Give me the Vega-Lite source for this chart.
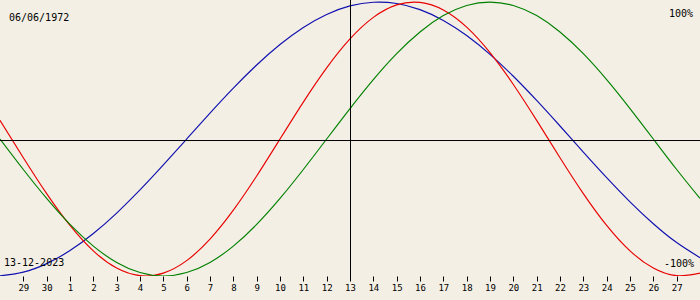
{
  "$schema": "https://vega.github.io/schema/vega-lite/v6.json",
  "width": 700,
  "height": 276,
  "padding": {"left": 0, "right": 0, "top": 0, "bottom": 24},
  "autosize": {"type": "none"},
  "background": "#f3efe4",
  "config": {"view": {"stroke": null}, "font": "DejaVu Sans Mono"},
  "encoding": {
    "x": {
      "field": "day", "type": "quantitative",
      "scale": {"domain": [-15, 15], "nice": false, "zero": false},
      "axis": {
        "title": null, "domain": false, "grid": false,
        "values": [-14, -13, -12, -11, -10, -9, -8, -7, -6, -5, -4, -3, -2, -1, 0, 1, 2, 3, 4, 5, 6, 7, 8, 9, 10, 11, 12, 13, 14],
        "labelExpr": "datum.value < -12 ? datum.value + 43 : datum.value + 13",
        "tickColor": "black", "tickSize": 5, "tickWidth": 1,
        "labelFont": "DejaVu Sans Mono", "labelFontSize": 9, "labelColor": "black",
        "labelPadding": 2, "labelFlush": false, "labelOverlap": false, "labelBound": false
      }
    },
    "y": {
      "field": "value", "type": "quantitative",
      "scale": {"domain": [-1, 1.015], "nice": false, "zero": false},
      "axis": null
    }
  },
  "layer": [
    {
      "data": {"values": [
        {"day": -15, "physical": 0.1362, "emotional": 0, "intellectual": -0.9989},
        {"day": -14, "physical": -0.1362, "emotional": -0.2225, "intellectual": -0.9718},
        {"day": -13, "physical": -0.3984, "emotional": -0.4339, "intellectual": -0.9096},
        {"day": -12, "physical": -0.6311, "emotional": -0.6235, "intellectual": -0.8146},
        {"day": -11, "physical": -0.8170, "emotional": -0.7818, "intellectual": -0.6901},
        {"day": -10, "physical": -0.9423, "emotional": -0.9010, "intellectual": -0.5406},
        {"day": -9, "physical": -0.9977, "emotional": -0.9749, "intellectual": -0.3717},
        {"day": -8, "physical": -0.9791, "emotional": -1, "intellectual": -0.1893},
        {"day": -7, "physical": -0.8879, "emotional": -0.9749, "intellectual": 0},
        {"day": -6, "physical": -0.7308, "emotional": -0.9010, "intellectual": 0.1893},
        {"day": -5, "physical": -0.5196, "emotional": -0.7818, "intellectual": 0.3717},
        {"day": -4, "physical": -0.2698, "emotional": -0.6235, "intellectual": 0.5406},
        {"day": -3, "physical": 0, "emotional": -0.4339, "intellectual": 0.6901},
        {"day": -2, "physical": 0.2698, "emotional": -0.2225, "intellectual": 0.8146},
        {"day": -1, "physical": 0.5196, "emotional": 0, "intellectual": 0.9096},
        {"day": 0, "physical": 0.7308, "emotional": 0.2225, "intellectual": 0.9718},
        {"day": 1, "physical": 0.8879, "emotional": 0.4339, "intellectual": 0.9989},
        {"day": 2, "physical": 0.9791, "emotional": 0.6235, "intellectual": 0.9898},
        {"day": 3, "physical": 0.9977, "emotional": 0.7818, "intellectual": 0.9450},
        {"day": 4, "physical": 0.9423, "emotional": 0.9010, "intellectual": 0.8660},
        {"day": 5, "physical": 0.8170, "emotional": 0.9749, "intellectual": 0.7557},
        {"day": 6, "physical": 0.6311, "emotional": 1, "intellectual": 0.6182},
        {"day": 7, "physical": 0.3984, "emotional": 0.9749, "intellectual": 0.4582},
        {"day": 8, "physical": 0.1362, "emotional": 0.9010, "intellectual": 0.2817},
        {"day": 9, "physical": -0.1362, "emotional": 0.7818, "intellectual": 0.0951},
        {"day": 10, "physical": -0.3984, "emotional": 0.6235, "intellectual": -0.0951},
        {"day": 11, "physical": -0.6311, "emotional": 0.4339, "intellectual": -0.2817},
        {"day": 12, "physical": -0.8170, "emotional": 0.2225, "intellectual": -0.4582},
        {"day": 13, "physical": -0.9423, "emotional": 0, "intellectual": -0.6182},
        {"day": 14, "physical": -0.9977, "emotional": -0.2225, "intellectual": -0.7557},
        {"day": 15, "physical": -0.9791, "emotional": -0.4339, "intellectual": -0.8660}
      ]},
      "transform": [{"fold": ["intellectual", "physical", "emotional"], "as": ["cycle", "value"]}],
      "mark": {"type": "line", "strokeWidth": 1.15, "interpolate": "natural", "clip": true},
      "encoding": {
        "color": {
          "field": "cycle", "type": "nominal",
          "scale": {"domain": ["intellectual", "physical", "emotional"], "range": ["#1010b0", "#e80000", "#008000"]},
          "legend": null
        }
      }
    },
    {
      "data": {"values": [{"day": 0, "value": 1.015, "value2": -1.03}]},
      "mark": {"type": "rule", "color": "black", "strokeWidth": 1, "xOffset": 0.5},
      "encoding": {"y2": {"field": "value2"}}
    },
    {
      "data": {"values": [{"day": -15, "day2": 15, "value": 0}]},
      "mark": {"type": "rule", "color": "black", "strokeWidth": 1, "yOffset": 1.5},
      "encoding": {"x2": {"field": "day2"}}
    },
    {
      "data": {"values": [{"day": -15, "value": 1, "label": "06/06/1972"}]},
      "mark": {"type": "text", "align": "left", "baseline": "alphabetic", "dx": 9, "dy": 19, "fontSize": 10, "font": "DejaVu Sans Mono", "color": "black"},
      "encoding": {"text": {"field": "label"}}
    },
    {
      "data": {"values": [{"day": 15, "value": 1, "label": "100%"}]},
      "mark": {"type": "text", "align": "right", "baseline": "alphabetic", "dx": -7, "dy": 15, "fontSize": 10, "font": "DejaVu Sans Mono", "color": "black"},
      "encoding": {"text": {"field": "label"}}
    },
    {
      "data": {"values": [{"day": -15, "value": -1, "label": "13-12-2023"}]},
      "mark": {"type": "text", "align": "left", "baseline": "alphabetic", "dx": 4, "dy": -10, "fontSize": 10, "font": "DejaVu Sans Mono", "color": "black"},
      "encoding": {"text": {"field": "label"}}
    },
    {
      "data": {"values": [{"day": 15, "value": -1, "label": "-100%"}]},
      "mark": {"type": "text", "align": "right", "baseline": "alphabetic", "dx": -6, "dy": -9, "fontSize": 10, "font": "DejaVu Sans Mono", "color": "black"},
      "encoding": {"text": {"field": "label"}}
    }
  ]
}
